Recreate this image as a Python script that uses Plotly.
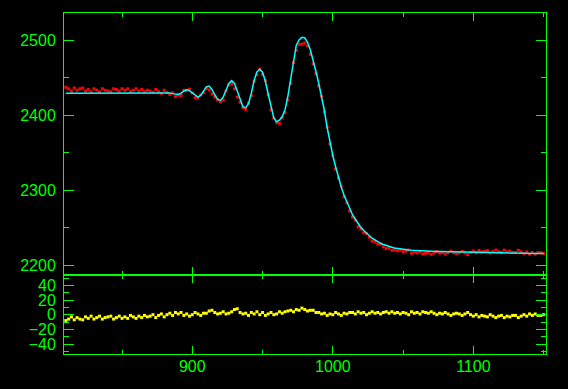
import plotly.graph_objects as go

# x grid of samples (every 2 units)
x_vals = list(range(810, 1151, 2))

# fitted model (cyan curve)
model = [
    2429, 2429, 2429, 2429, 2429, 2429, 2429, 2429, 2429, 2429,           # 810-828
    2429, 2429, 2429, 2429, 2429, 2429, 2429, 2429, 2430, 2430,           # 830-848
    2430, 2430, 2430, 2430, 2430, 2430, 2430, 2430, 2430, 2430,           # 850-868
    2430, 2430, 2430, 2430, 2430, 2430, 2430, 2429.5, 2428.5, 2427.5,     # 870-888
    2427.5, 2429, 2432, 2433.5, 2432.5, 2429.5, 2426, 2423.8, 2426, 2432, # 890-908
    2437.5, 2438.5, 2434, 2427, 2421, 2419.5, 2424, 2433, 2442, 2445.8,   # 910-928
    2442, 2432, 2420, 2411, 2409.5, 2415, 2429, 2446, 2457.5, 2461,       # 930-948
    2457, 2445, 2428, 2410, 2396, 2391, 2393, 2398, 2407, 2425,           # 950-968
    2448, 2474, 2493, 2500, 2503.5, 2503, 2497, 2487, 2474, 2458,         # 970-988
    2442, 2426, 2406, 2383, 2362, 2346, 2331, 2317, 2304, 2293,           # 990-1008
    2284, 2275, 2267, 2261, 2255, 2250, 2246, 2242, 2239, 2236,           # 1010-1028
    2233.5, 2231, 2229, 2227.3, 2225.8, 2224.6, 2223.6, 2222.7, 2222, 2221.4,  # 1030-1048
    2220.9, 2220.5, 2220.1, 2219.8, 2219.5, 2219.2, 2219, 2218.8, 2218.6, 2218.4,  # 1050-1068
    2218.3, 2218.1, 2218, 2217.9, 2217.8, 2217.7, 2217.6, 2217.5, 2217.4, 2217.3,  # 1070-1088
    2217.2, 2217.1, 2217, 2216.9, 2216.8, 2216.7, 2216.6, 2216.5, 2216.4, 2216.3,  # 1090-1108
    2216.2, 2216.1, 2216, 2215.9, 2215.9, 2215.8, 2215.8, 2215.7, 2215.7, 2215.7,  # 1110-1128
    2215.6, 2215.6, 2215.6, 2215.6, 2215.5, 2215.5, 2215.5, 2215.5, 2215.5, 2215.5,  # 1130-1148
    2215.5,                                                               # 1150
]

# residuals (model - data), yellow points
resid = [
    -8, -6, -3, -7, -4, -6, -7, -3, -5, -2,
    -6, -4, -2, -6, -4, -3, -2, -6, -4, -2,
    -5, -3, -5, -1, -3, -5, -2, -4, -1, -3,
    -2, 0, -4, -1, 1, -3, 0, 2, -1, 3,
    1, 3, -1, 1, -2, 0, 3, 1, -1, 2,
    2, 5, 6, 3, 1, 2, 4, 1, 2, 4,
    7, 8, 3, 1, 2, -1, 3, 1, 4, 0,
    3, -1, 1, 3, 0, 1, 4, 2, 4, 5,
    6, 4, 7, 6, 9, 7, 5, 6, 6, 3,
    3, 1, 2, -1, 1, 0, 3, 1, -1, 2,
    1, 3, 3, 1, 4, 2, 3, 0, 2, 4,
    2, 3, 1, 3, 4, 2, 4, 2, 3, 1,
    3, 2, 0, 4, 2, 3, 1, 4, 3, 2,
    4, 2, 0, 2, 1, 3, 1, -1, 1, 2,
    1, -1, 1, 3, 0, -2, 0, -3, -1, -2,
    -3, 0, -2, -4, -2, -1, -4, -2, -3, -1,
    -1, -4, -2, 0, -2, 1, -1, 1, -1, -1,
    0,
]

# observed data (red points): data = model - residual
data = [m - r for m, r in zip(model, resid)]

x_range = [808.7, 1151.7]
y_main_range = [2186.7, 2536]
y_res_range = [-53.6, 54.1]

GREEN = "#00ff00"
font = dict(family="Liberation Sans, Arial, sans-serif", size=16, color=GREEN)

fig = go.Figure()
fig.add_trace(go.Scatter(x=x_vals, y=data, mode="markers",
                         marker=dict(symbol="square", size=3, color="#ff0000", line=dict(width=0)),
                         xaxis="x", yaxis="y"))
fig.add_trace(go.Scatter(x=x_vals, y=model, mode="lines",
                         line=dict(color="#00ffff", width=1.5, shape="linear"),
                         xaxis="x", yaxis="y"))
fig.add_trace(go.Scatter(x=x_vals, y=resid, mode="markers",
                         marker=dict(symbol="square", size=3, color="#ffff00", line=dict(width=0)),
                         xaxis="x2", yaxis="y2"))

split = 79 / 341

common_x = dict(range=x_range, showgrid=False, zeroline=False, showline=True, linecolor=GREEN,
                linewidth=1, mirror="ticks", ticks="inside", ticklen=8, tickwidth=1, tickcolor=GREEN,
                tickmode="linear", tick0=0, dtick=100, automargin=False,
                minor=dict(ticks="inside", ticklen=4, tickwidth=1, tickcolor=GREEN, dtick=50, tick0=0, showgrid=False),
                tickfont=font)
common_y = dict(showgrid=False, zeroline=False, showline=True, linecolor=GREEN, linewidth=1,
                mirror="ticks", ticks="inside", ticklen=10, tickwidth=1, tickcolor=GREEN,
                tickfont=font, tickmode="linear", tick0=0, ticklabelstandoff=4, automargin=False)

fig.update_layout(
    width=568, height=389,
    paper_bgcolor="black", plot_bgcolor="black",
    margin=dict(l=64, r=22, t=13, b=35),
    showlegend=False,
    xaxis=dict(common_x, anchor="y", showticklabels=False, matches="x2"),
    xaxis2=dict(common_x, anchor="y2", showticklabels=True, ticklabelstandoff=-2),
    yaxis=dict(common_y, domain=[split, 1], range=y_main_range, dtick=100,
               minor=dict(ticks="inside", ticklen=5, tickwidth=1, tickcolor=GREEN, dtick=50, tick0=0, showgrid=False)),
    yaxis2=dict(common_y, domain=[0, split], range=y_res_range, dtick=20,
                minor=dict(ticks="inside", ticklen=5, tickwidth=1, tickcolor=GREEN, dtick=10, tick0=0, showgrid=False)),
)

fig.write_html("out.html", config={"displayModeBar": False},
               post_script="document.body.style.margin='0';document.body.style.background='black';")
